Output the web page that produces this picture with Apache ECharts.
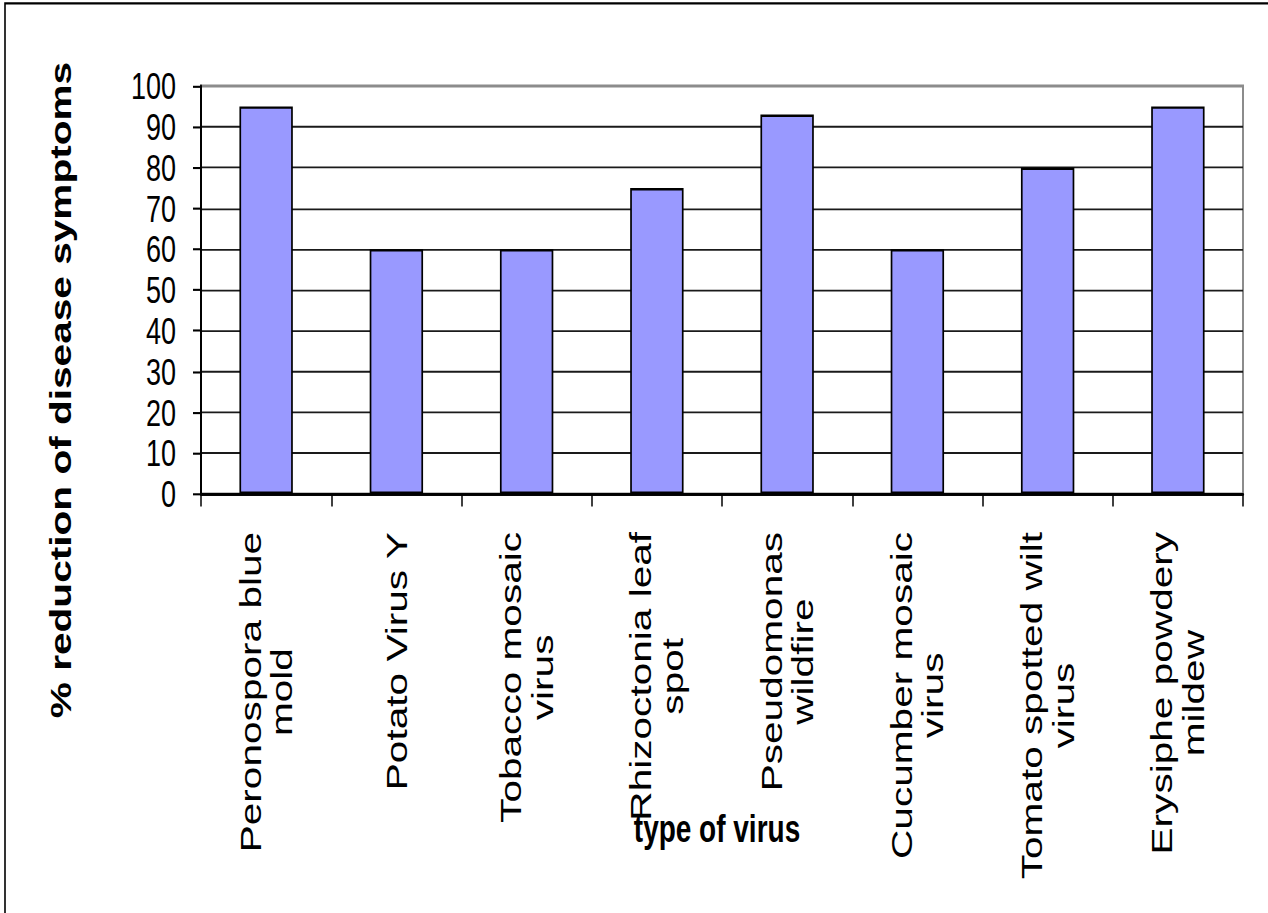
<!DOCTYPE html>
<html>
<head>
<meta charset="utf-8">
<title>% reduction of disease symptoms by type of virus</title>
<script src="https://cdn.jsdelivr.net/npm/echarts@6/dist/echarts.min.js"></script>
<style>
  html, body { margin: 0; padding: 0; background: #fff; overflow: hidden; }
  #wrap { width: 1268px; height: 913px; overflow: hidden; position: relative; background: #fff; }
  /* the chart is laid out in a shorter box and stretched vertically, giving the tall lettering */
  #chart { width: 1268px; height: 652px; transform-origin: 0 0; transform: scaleY(1.40031); }
</style>
</head>
<body>
<div id="wrap"><div id="chart"></div></div>
<script>
// Categories (two-line labels) and values
const categories = [
  'Peronospora blue\nmold',
  'Potato Virus Y',
  'Tobacco mosaic\nvirus',
  'Rhizoctonia leaf\nspot',
  'Pseudomonas\nwildfire',
  'Cucumber mosaic\nvirus',
  'Tomato spotted wilt\nvirus',
  'Erysiphe powdery\nmildew'
];
const reduction = [95, 60, 60, 75, 93, 60, 80, 95];

// Value axis ticks
const yMin = 0;
const yMax = 100;
const yStep = 10;

const yTitle = '% reduction of disease symptoms';
const xTitle = 'type of virus';

const FONT = '"Liberation Sans", Arial, Helvetica, sans-serif';
const SY = 1.40031; // vertical stretch applied by CSS

const chart = echarts.init(document.getElementById('chart'), null, { renderer: 'svg' });

const option = {
  animation: false,
  backgroundColor: 'transparent',
  grid: {
    left: 201,
    right: 25,
    top: 86 / SY,
    bottom: 652 - 494 / SY,
    show: true,
    borderColor: '#8c8c8c',
    borderWidth: 2,
    backgroundColor: 'transparent',
    containLabel: false
  },
  xAxis: {
    type: 'category',
    data: categories,
    axisLine: { show: true, lineStyle: { color: '#000', width: 2 } },
    axisTick: { show: true, alignWithLabel: false, inside: false, length: 9, lineStyle: { color: '#000', width: 1.5 } },
    axisLabel: {
      interval: 0,
      rotate: 90,
      margin: 27,
      color: '#000',
      fontFamily: FONT,
      fontSize: 29,
      formatter: function (v) {
        return v.split('\n').map(function (l) { return '{c|' + l + '}'; }).join('\n');
      },
      rich: {
        c: { fontFamily: FONT, fontSize: 29, color: '#000', align: 'center', lineHeight: 31.5 }
      }
    },
    splitLine: { show: false }
  },
  yAxis: {
    type: 'value',
    min: yMin,
    max: yMax,
    interval: yStep,
    axisLine: { show: true, lineStyle: { color: '#000', width: 2 } },
    axisTick: { show: true, length: 8, lineStyle: { color: '#000', width: 1.5 } },
    axisLabel: { color: '#000', fontFamily: FONT, fontSize: 27, margin: 25 },
    splitLine: { show: true, showMaxLine: false, lineStyle: { color: '#1a1a1a', width: 1.3 } }
  },
  series: [{
    type: 'bar',
    data: reduction,
    barWidth: '41%',
    itemStyle: { color: '#9999FF', borderColor: '#000', borderWidth: 1.7 },
    emphasis: { disabled: true }
  }],
  graphic: [
    {
      type: 'rect',
      silent: true,
      shape: { x: 5, y: 2.4, width: 3000, height: 3000 },
      style: { fill: 'none', stroke: '#000', lineWidth: 1.6 }
    },
    {
      type: 'text',
      silent: true,
      x: 61,
      y: 390 / SY,
      rotation: Math.PI / 2,
      style: {
        text: yTitle,
        fontFamily: FONT,
        fontWeight: 'bold',
        fontSize: 29,
        fill: '#000',
        align: 'center',
        verticalAlign: 'middle'
      }
    },
    {
      type: 'text',
      silent: true,
      x: 717,
      y: 591.5,
      z: 100,
      style: {
        text: xTitle,
        fontFamily: FONT,
        fontWeight: 'bold',
        fontSize: 28,
        fill: '#000',
        align: 'center',
        verticalAlign: 'middle'
      }
    }
  ]
};

chart.setOption(option);
</script>
</body>
</html>
